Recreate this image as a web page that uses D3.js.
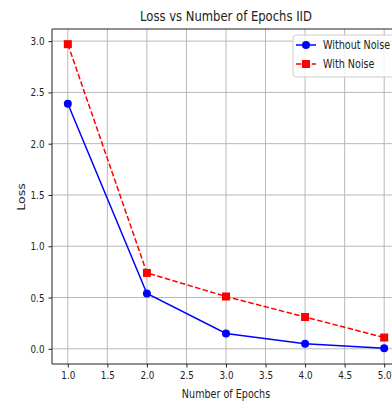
<!DOCTYPE html>
<html>
<head>
<meta charset="utf-8">
<script src="https://cdn.jsdelivr.net/npm/d3@7"></script>
<style>
  body { margin: 0; background: #fff; }
  svg { display: block; font-family: "DejaVu Sans", sans-serif; }
</style>
</head>
<body>
<div id="chart"></div>
<script>
// Loss per epoch
var epochs = [1, 2, 3, 4, 5]
var lossWithoutNoise = [2.39, 0.54, 0.15, 0.05, 0.005]
var lossWithNoise = [2.97, 0.74, 0.51, 0.31, 0.11]
var xTicks = [1.0, 1.5, 2.0, 2.5, 3.0, 3.5, 4.0, 4.5, 5.0]
var yTicks = [0.0, 0.5, 1.0, 1.5, 2.0, 2.5, 3.0]
var seriesNames = ['Without Noise', 'With Noise']

var width = 392
var height = 408
var plot = { left: 52, right: 400, top: 29, bottom: 364 }
var squeeze = 0.8 // picture is squeezed sideways

var svg = d3.select('#chart')
  .append('svg')
  .attr('width', width)
  .attr('height', height)

var x = d3.scaleLinear().domain([0.8, 5.2]).range([plot.left, plot.right])
var y = d3.scaleLinear().domain([-0.148, 3.118]).range([plot.bottom, plot.top])

// grid
svg.append('g').selectAll('line').data(xTicks).join('line')
  .attr('x1', d => x(d)).attr('x2', d => x(d))
  .attr('y1', plot.top).attr('y2', plot.bottom)
  .attr('stroke', '#b8b8b8').attr('stroke-width', 1)
svg.append('g').selectAll('line').data(yTicks).join('line')
  .attr('x1', plot.left).attr('x2', plot.right)
  .attr('y1', d => y(d)).attr('y2', d => y(d))
  .attr('stroke', '#b8b8b8').attr('stroke-width', 1)

// axes
var xAxis = svg.append('g')
  .attr('transform', `translate(0,${plot.bottom})`)
  .call(d3.axisBottom(x).tickValues(xTicks).tickFormat(d3.format('.1f')).tickSize(3.5).tickPadding(3.5))
var yAxis = svg.append('g')
  .attr('transform', `translate(${plot.left},0)`)
  .call(d3.axisLeft(y).tickValues(yTicks).tickFormat(d3.format('.1f')).tickSize(3.5).tickPadding(3.5))

;[xAxis, yAxis].forEach(a => {
  a.select('.domain').remove()
  a.selectAll('.tick line').attr('stroke', '#222')
  a.selectAll('.tick text')
    .attr('font-family', '"DejaVu Sans", sans-serif')
    .attr('font-size', 11).attr('fill', '#222')
})
xAxis.selectAll('.tick text').attr('transform', `scale(${squeeze},1)`)
yAxis.selectAll('.tick text').attr('transform', `scale(${squeeze},1)`)
  .attr('x', -7.5 / squeeze)

// spines
svg.append('line').attr('x1', plot.left).attr('x2', plot.right)
  .attr('y1', plot.top).attr('y2', plot.top).attr('stroke', '#222')
svg.append('line').attr('x1', plot.left).attr('x2', plot.right)
  .attr('y1', plot.bottom).attr('y2', plot.bottom).attr('stroke', '#222')
svg.append('line').attr('x1', plot.left).attr('x2', plot.left)
  .attr('y1', plot.top).attr('y2', plot.bottom).attr('stroke', '#222')

// lines
var line = d3.line().x((d, i) => x(epochs[i])).y(d => y(d))
svg.append('path').datum(lossWithoutNoise)
  .attr('d', line).attr('fill', 'none').attr('stroke', 'blue').attr('stroke-width', 1.5)
svg.append('path').datum(lossWithNoise)
  .attr('d', line).attr('fill', 'none').attr('stroke', 'red').attr('stroke-width', 1.5)
  .attr('stroke-dasharray', '5.5,2.4')

svg.append('g').selectAll('circle').data(lossWithoutNoise).join('circle')
  .attr('cx', (d, i) => x(epochs[i])).attr('cy', d => y(d)).attr('r', 4)
  .attr('fill', 'blue')
svg.append('g').selectAll('rect').data(lossWithNoise).join('rect')
  .attr('x', (d, i) => x(epochs[i]) - 4).attr('y', d => y(d) - 4)
  .attr('width', 8).attr('height', 8).attr('fill', 'red')

// text helper: squeezed sideways like the reference
function label(txt, cx, cy, size, rotate) {
  var g = svg.append('g').attr('transform', `translate(${cx},${cy})`)
  var t = g.append('text').text(txt)
    .attr('font-size', size).attr('fill', '#222')
    .attr('text-anchor', 'middle')
  if (rotate) t.attr('transform', `scale(${squeeze},1) rotate(-90)`)
  else t.attr('transform', `scale(${squeeze},1)`)
  return t
}
label('Loss vs Number of Epochs IID', 226, 21, 14.5)
label('Number of Epochs', 226, 398, 12)
label('Loss', 25, 197, 12.5, true)

// legend
var lg = svg.append('g').attr('transform', 'translate(293,35)')
lg.append('rect').attr('width', 110).attr('height', 42).attr('rx', 3)
  .attr('fill', 'white').attr('fill-opacity', 0.8).attr('stroke', '#ccc')
var colors = ['blue', 'red']
seriesNames.forEach((name, i) => {
  var row = lg.append('g').attr('transform', `translate(0,${10 + i * 19})`)
  row.append('line').attr('x1', 3).attr('x2', 23).attr('stroke', colors[i])
    .attr('stroke-width', 1.5).attr('stroke-dasharray', i ? '5.5,2.4' : null)
  if (i === 0) row.append('circle').attr('cx', 13).attr('r', 4).attr('fill', 'blue')
  else row.append('rect').attr('x', 9).attr('y', -4).attr('width', 8).attr('height', 8).attr('fill', 'red')
  row.append('g').attr('transform', 'translate(30,0)')
    .append('text').text(name).attr('font-size', 12).attr('fill', '#222')
    .attr('dy', '0.35em').attr('transform', `scale(${squeeze},1)`)
})
</script>
</body>
</html>
